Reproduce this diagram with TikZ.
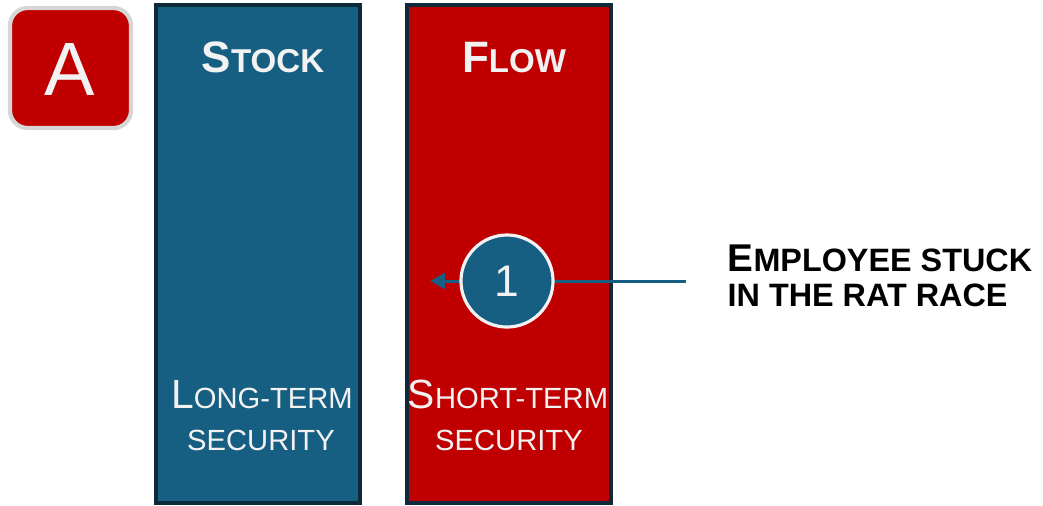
\documentclass[tikz,border=0pt]{standalone}
\usepackage{fontspec}
\setmainfont{Liberation Sans}
\usetikzlibrary{positioning, arrows.meta}

\definecolor{stockblue}{HTML}{175F82}
\definecolor{flowred}{HTML}{C00000}
\definecolor{edgedark}{HTML}{0E2A3A}
\definecolor{badgegray}{HTML}{D6D6D6}
\definecolor{paper}{HTML}{F2F2F2}

% first letter big, the rest small (fake small caps)
\newcommand{\scpart}[2]{{\fontsize{#1}{14pt}\selectfont #2}}

\begin{document}
\begin{tikzpicture}[x=0.01cm, y=-0.01cm, >=Stealth,
					column/.style={draw=edgedark, line width=1.1pt},
					label/.style={inner sep=0pt, text=paper, anchor=base},
					side/.style={inner sep=0pt, anchor=base west, font=\bfseries},
					numbered/.style={circle, fill=stockblue, draw=paper, line width=0.9pt,
					                 minimum size=0.92cm, inner sep=0pt, text=paper,
					                 font=\fontsize{12.6pt}{14pt}\selectfont} ]
					\useasboundingbox (0,0) rectangle (1043,505);

					% badge
					\draw[fill=flowred, draw=badgegray, line width=1.2pt, rounded corners=5pt]
					      (10,8) rectangle (131,128);
					\node[label, font=\fontsize{21.5pt}{24pt}\selectfont] (badge) at (70,95) {A};

					% columns
					\draw[column, fill=stockblue] (156,5) rectangle (360,503);
					\draw[column, fill=flowred]   (407,5) rectangle (611,503);

					\node[label, font=\bfseries] (stock) at (263,72) {\scpart{12.5pt}{S}\scpart{9.4pt}{TOCK}};
					\node[label, font=\bfseries] (flow)  at (514,72) {\scpart{12.5pt}{F}\scpart{9.4pt}{LOW}};

					\node[label] (longA)  at (262,408) {\scpart{11.6pt}{L}\scpart{8.3pt}{ONG-TERM}};
					\node[label] (longB)  at (261,450) {\scpart{8.3pt}{SECURITY}};
					\node[label] (shortA) at (508,408) {\scpart{11.6pt}{S}\scpart{8.3pt}{HORT-TERM}};
					\node[label] (shortB) at (509,450) {\scpart{8.3pt}{SECURITY}};

					% employee
					\node[side] (ratA) at (727,271) {\scpart{11pt}{E}\scpart{9.2pt}{MPLOYEE STUCK}};
					\node[side] (ratB) at (727,306) {\scpart{9.2pt}{IN THE RAT RACE}};

					\coordinate (start) at (686,281);
					\coordinate (tip)   at (430,281);
					\draw[-{Triangle[length=4.2pt, width=4.4pt]}, stockblue, line width=0.85pt] (start) -- (tip);

					\node[numbered] (one) at (507,281) {1};
				\end{tikzpicture}
\end{document}
